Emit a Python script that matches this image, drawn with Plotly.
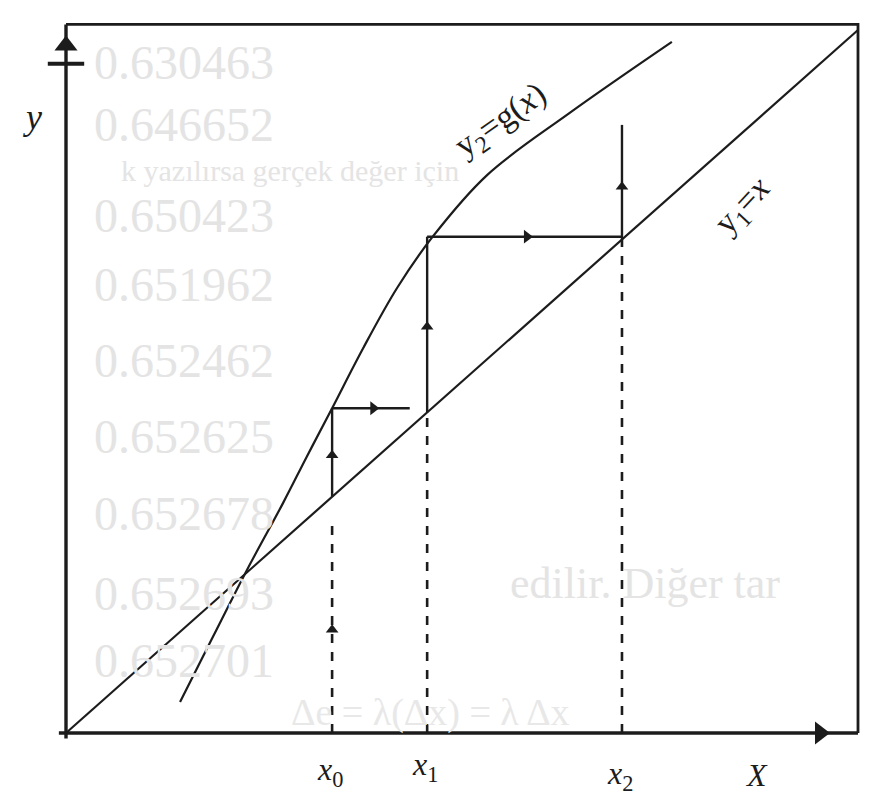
import plotly.graph_objects as go

# ---- data (chart units; origin at lower-left corner of the frame) ----
g_x = [1.44, 1.86, 2.29, 2.74, 3.04, 3.36, 3.75, 4.18, 4.63, 5.32, 6.36, 7.65]
g_y = [0.44, 1.38, 2.33, 3.27, 3.93, 4.62, 5.47, 6.33, 7.06, 7.94, 8.82, 9.83]

line_x = [0.0, 10.0]           # y1 = x
x_iter = [3.36, 4.56, 7.02]    # x0, x1, x2
g_iter = [4.62, 7.06]          # g(x0), g(x1)
h_end = [4.34, 7.02]           # ends of the horizontal steps
x2_top = 8.65
dash_top = [2.95, 4.56, 7.02]  # tops of the dashed verticals

tick_labels = ["<i>x</i><sub>0</sub>", "<i>x</i><sub>1</sub>", "<i>x</i><sub>2</sub>"]

ghost_numbers = ["0.630463", "0.646652", "0.650423", "0.651962", "0.652462",
                 "0.652625", "0.652678", "0.652693", "0.652701"]

INK = "#1c1c1c"
GHOST = "#e4e4e4"
FR = 79.2  # px per x unit
FY = 70.3  # px per y unit
X0PX, Y0PX = 66, 733   # page pixel of the origin
OFF = 8                # default page body margin
W, H = 877 - OFF, 800 - OFF


def px(x):
    return (x - OFF) / W


def py(y):
    return 1 - (y - OFF) / H


fig = go.Figure()

# faint bleed-through text from the scanned page
ghost_y_px = [63, 125, 215, 284, 360, 437, 513, 593, 660]
for t, yy in zip(ghost_numbers, ghost_y_px):
    fig.add_annotation(x=px(276), y=py(yy), xref="paper", yref="paper",
                       xanchor="right", yanchor="middle",
                       text=t, showarrow=False,
                       font=dict(family="Liberation Serif", size=48, color=GHOST))
fig.add_annotation(x=px(290), y=py(170), xref="paper", yref="paper",
                   xanchor="center", yanchor="middle",
                   text="k yazılırsa gerçek değer için", showarrow=False,
                   font=dict(family="Liberation Serif", size=30, color=GHOST))
fig.add_annotation(x=px(645), y=py(583), xref="paper", yref="paper",
                   xanchor="center", yanchor="middle",
                   text="edilir. Diğer tar", showarrow=False,
                   font=dict(family="Liberation Serif", size=44, color=GHOST))
fig.add_annotation(x=px(430), y=py(712), xref="paper", yref="paper",
                   xanchor="center", yanchor="middle",
                   text="Δe = λ(Δx) = λ Δx", showarrow=False,
                   font=dict(family="Liberation Serif", size=38, color="#e8e8e8"))

# frame (top and right)
fig.add_trace(go.Scatter(x=[0, 10.0, 10.0], y=[10.08, 10.08, 0], mode="lines",
                         line=dict(color=INK, width=2.8), hoverinfo="skip"))
# axes
fig.add_trace(go.Scatter(x=[-0.09, 10.0], y=[0, 0], mode="lines",
                         line=dict(color=INK, width=3.4), hoverinfo="skip"))
fig.add_trace(go.Scatter(x=[0, 0], y=[-0.08, 10.08], mode="lines",
                         line=dict(color=INK, width=3.4), hoverinfo="skip"))
# axis arrowheads
fig.add_trace(go.Scatter(x=[0], y=[9.78], mode="markers",
                         marker=dict(symbol="triangle-up", size=20, color=INK),
                         hoverinfo="skip"))
fig.add_trace(go.Scatter(x=[0], y=[9.52], mode="markers",
                         marker=dict(symbol="line-ew", size=26, line=dict(color=INK, width=4)),
                         hoverinfo="skip"))
fig.add_trace(go.Scatter(x=[9.52], y=[0], mode="markers",
                         marker=dict(symbol="triangle-right", size=20, color=INK),
                         hoverinfo="skip"))

# y1 = x
fig.add_trace(go.Scatter(x=line_x, y=line_x, mode="lines",
                         line=dict(color=INK, width=2.2), hoverinfo="skip"))
# y2 = g(x)
fig.add_trace(go.Scatter(x=g_x, y=g_y, mode="lines", line_shape="spline",
                         line=dict(color=INK, width=2.2), hoverinfo="skip"))

# dashed verticals from the x axis
for xv, top in zip(x_iter, dash_top):
    fig.add_trace(go.Scatter(x=[xv, xv], y=[0, top], mode="lines",
                             line=dict(color=INK, width=2.6, dash="dash"), hoverinfo="skip"))

# cobweb: solid verticals from y=x up to g, and horizontals
for i in range(2):
    xv = x_iter[i]
    fig.add_trace(go.Scatter(x=[xv, xv], y=[xv, g_iter[i]], mode="lines",
                             line=dict(color=INK, width=2.4), hoverinfo="skip"))
    fig.add_trace(go.Scatter(x=[xv, h_end[i]], y=[g_iter[i], g_iter[i]], mode="lines",
                             line=dict(color=INK, width=2.4), hoverinfo="skip"))
fig.add_trace(go.Scatter(x=[x_iter[2], x_iter[2]], y=[x_iter[2], x2_top], mode="lines",
                         line=dict(color=INK, width=2.4), hoverinfo="skip"))

# direction arrowheads along the cobweb
up_x = [x_iter[0], x_iter[0], x_iter[1], x_iter[2]]
up_y = [1.47, 3.95, 5.78, 7.77]
fig.add_trace(go.Scatter(x=up_x, y=up_y, mode="markers",
                         marker=dict(symbol="triangle-up", size=11, color=INK),
                         hoverinfo="skip"))
right_x = [3.88, 5.82]
right_y = [g_iter[0], g_iter[1]]
fig.add_trace(go.Scatter(x=right_x, y=right_y, mode="markers",
                         marker=dict(symbol="triangle-right", size=12, color=INK),
                         hoverinfo="skip"))

# labels
lab_font = dict(family="Liberation Serif", size=32, color=INK)
label_y = [-0.55, -0.48, -0.6]
for xv, ly, t in zip(x_iter, label_y, tick_labels):
    fig.add_annotation(x=xv - 0.03, y=ly, text=t, showarrow=False, font=lab_font)
fig.add_annotation(x=8.72, y=-0.6, text="<i>X</i>", showarrow=False,
                   font=dict(family="Liberation Serif", size=32, color=INK))
fig.add_annotation(x=-0.42, y=8.76, text="<i>y</i>", showarrow=False,
                   font=dict(family="Liberation Serif", size=36, color=INK))
fig.add_annotation(x=5.50, y=8.70, text="y<sub>2</sub>=g(<i>x</i>)", showarrow=False,
                   textangle=-35, font=dict(family="Liberation Serif", size=34, color=INK))
fig.add_annotation(x=8.55, y=7.48, text="y<sub>1</sub>=<i>x</i>", showarrow=False,
                   textangle=-47, font=dict(family="Liberation Serif", size=34, color=INK))

fig.update_layout(
    width=W, height=H,
    margin=dict(l=0, r=0, t=0, b=0),
    paper_bgcolor="white", plot_bgcolor="white",
    showlegend=False,
    xaxis=dict(range=[(OFF - X0PX) / FR, (877 - X0PX) / FR], visible=False, fixedrange=True),
    yaxis=dict(range=[(Y0PX - 800) / FY, (Y0PX - OFF) / FY], visible=False, fixedrange=True),
)

fig.write_html("out.html")
